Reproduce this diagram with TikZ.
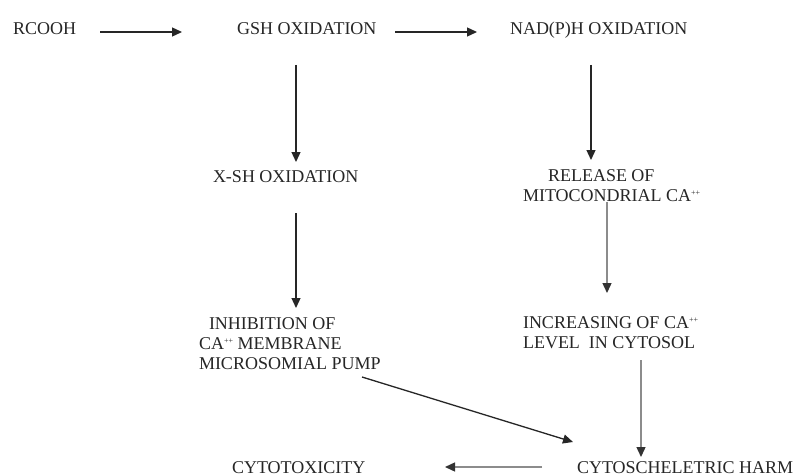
\documentclass[tikz,border=0pt]{standalone}
\usepackage{fontspec}
\setmainfont{Liberation Serif}
\usetikzlibrary{calc,arrows.meta}
\newcommand{\caplus}{CA\raisebox{6pt}{\fontsize{8}{8}\selectfont ++}}
\begin{document}
\begin{tikzpicture}[x=1pt,y=-1pt,
  lbl/.style={anchor=base west,inner sep=0pt,outer sep=0pt,text=black!85,font=\fontsize{18}{20}\selectfont},
  arr/.style={line width=1.3pt,draw=black!85,-{Triangle[length=10pt,width=9pt]}},
  garr/.style={line width=1.4pt,draw=black!45,-{Triangle[length=10pt,width=9pt,color=black!80]}}]
\fill[white] (0,0) rectangle (797,476);
\useasboundingbox (0,0) rectangle (797,476);

\node[lbl] (rcooh) at (13,35) {RCOOH};
\node[lbl] (gsh) at (237,35) {GSH OXIDATION};
\node[lbl] (nad) at (510,35) {NAD(P)H OXIDATION};
\node[lbl] (xsh) at (213,182) {X-SH OXIDATION};
\node[lbl] (rel) at (523,181) {\begin{tabular}[t]{@{}l@{}}\hspace{25pt}RELEASE OF\\ MITOCONDRIAL \caplus\end{tabular}};
\node[lbl] (inh) at (199,329) {\begin{tabular}[t]{@{}l@{}}\hspace{10pt}INHIBITION OF\\ \caplus{} MEMBRANE\\ MICROSOMIAL PUMP\end{tabular}};
\node[lbl] (inc) at (523,328) {\begin{tabular}[t]{@{}l@{}}INCREASING OF \caplus\\ LEVEL\ \ IN CYTOSOL\end{tabular}};
\node[lbl] (cyto) at (232,473) {CYTOTOXICITY};
\node[lbl] (harm) at (577,473) {CYTOSCHELETRIC HARM};

\draw[arr] ($(rcooh.base west)+(87,-3)$) -- ($(gsh.base west)+(-55,-3)$);
\draw[arr] ($(gsh.base west)+(158,-3)$) -- ($(nad.base west)+(-33,-3)$);
\draw[arr] ($(gsh.base west)+(59,30)$) -- ($(xsh.base west)+(83,-20)$);
\draw[arr] ($(nad.base west)+(81,30)$) -- ($(rel.base west)+(68,-21)$);
\draw[arr] ($(xsh.base west)+(83,31)$) -- ($(inh.base west)+(97,-21)$);
\draw[garr] ($(rel.base west)+(84,21)$) -- ($(inc.base west)+(84,-35)$);
\draw[garr] ($(inc.base west)+(118,32)$) -- ($(harm.base west)+(64,-16)$);
\draw[arr] ($(inh.base west)+(163,48)$) -- ($(harm.base west)+(-4,-31)$);
\draw[garr] ($(harm.base west)+(-35,-6)$) -- ($(cyto.base west)+(213,-6)$);
\end{tikzpicture}
\end{document}
